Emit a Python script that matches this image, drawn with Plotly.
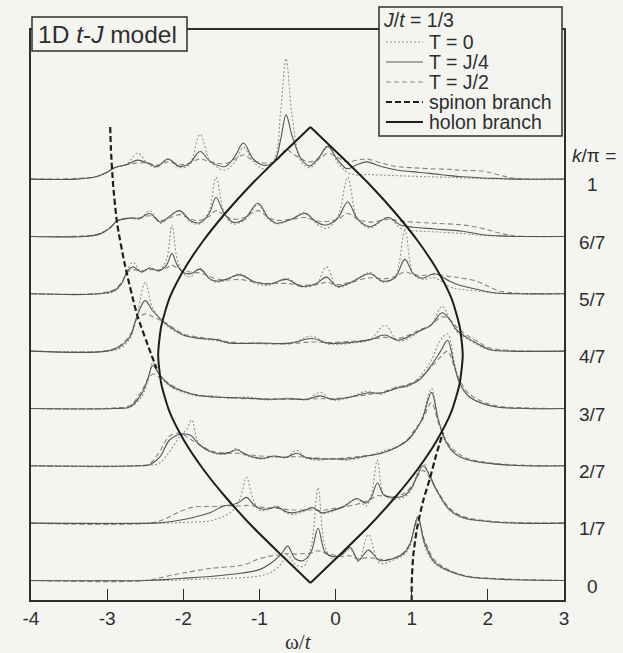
import plotly.graph_objects as go

# ---------------- data ----------------
# spectral weight A(k, w) for the 1D t-J model, J/t = 1/3, one row per momentum
k_labels = ["0", "1/7", "2/7", "3/7", "4/7", "5/7", "6/7", "1"]

# k = 0
w_k0 = [-4.0, -2.5, -2.2, -2.0, -1.65, -1.22, -1.0, -0.85, -0.72, -0.63, -0.53, -0.42, -0.32, -0.23,
        -0.14, -0.04, 0.08, 0.19, 0.3, 0.43, 0.58, 0.75, 0.9, 0.98, 1.08, 1.17, 1.3, 1.45, 1.72, 2.2, 3.0]
t0_k0 = [0, 0, 0, 0.01, 0.03, 0.05, 0.08, 0.14, 0.28, 0.45, 0.28, 0.25, 0.6, 1.62,
         0.6, 0.38, 0.45, 0.55, 0.33, 0.8, 0.3, 0.35, 0.45, 0.6, 1.12, 0.6, 0.3, 0.18, 0.07, 0.02, 0]
tj4_k0 = [0, 0, 0.02, 0.04, 0.07, 0.13, 0.19, 0.3, 0.45, 0.6, 0.38, 0.35, 0.5, 0.91,
          0.5, 0.42, 0.45, 0.58, 0.35, 0.53, 0.35, 0.38, 0.48, 0.65, 1.1, 0.65, 0.32, 0.19, 0.07, 0.02, 0]
tj2_k0 = [0, 0, 0.08, 0.13, 0.21, 0.27, 0.38, 0.43, 0.45, 0.47, 0.46, 0.47, 0.48, 0.52,
          0.48, 0.45, 0.42, 0.43, 0.38, 0.4, 0.37, 0.38, 0.5, 0.65, 1.05, 0.7, 0.36, 0.21, 0.08, 0.03, 0]

# k = pi/7
w_k1 = [-4.0, -2.4, -2.2, -2.05, -1.87, -1.65, -1.47, -1.35, -1.25, -1.17, -1.08, -0.99, -0.88, -0.77,
        -0.65, -0.56, -0.42, -0.3, -0.18, -0.05, 0.1, 0.28, 0.4, 0.47, 0.55, 0.63, 0.75, 0.9, 1.0,
        1.08, 1.15, 1.24, 1.33, 1.5, 1.67, 2.0, 2.4, 3.0]
t0_k1 = [0, 0, 0, 0.01, 0.02, 0.04, 0.12, 0.22, 0.45, 0.8, 0.4, 0.22, 0.24, 0.3,
         0.18, 0.15, 0.2, 0.28, 0.17, 0.2, 0.3, 0.42, 0.3, 0.5, 1.1, 0.5, 0.42, 0.45, 0.6,
         0.9, 1.05, 0.8, 0.55, 0.22, 0.09, 0.03, 0, 0]
tj4_k1 = [0, 0, 0.02, 0.05, 0.1, 0.18, 0.3, 0.32, 0.38, 0.45, 0.33, 0.25, 0.25, 0.28,
          0.2, 0.18, 0.22, 0.27, 0.18, 0.22, 0.28, 0.43, 0.35, 0.45, 0.7, 0.5, 0.45, 0.48, 0.62,
          0.85, 1.0, 0.82, 0.57, 0.23, 0.1, 0.03, 0, 0]
tj2_k1 = [0, 0.01, 0.1, 0.2, 0.28, 0.29, 0.3, 0.3, 0.3, 0.31, 0.3, 0.28, 0.27, 0.26,
          0.24, 0.23, 0.23, 0.23, 0.22, 0.25, 0.28, 0.33, 0.38, 0.42, 0.48, 0.47, 0.46, 0.52, 0.65,
          0.82, 0.92, 0.78, 0.58, 0.26, 0.12, 0.04, 0.01, 0]

# k = 2pi/7
w_k2 = [-4.0, -2.6, -2.44, -2.31, -2.18, -2.05, -1.95, -1.89, -1.8, -1.65, -1.52, -1.4, -1.3, -1.18,
        -0.99, -0.8, -0.65, -0.51, -0.38, -0.2, -0.05, 0.15, 0.4, 0.6, 0.8, 0.95, 1.05, 1.14, 1.26,
        1.35, 1.45, 1.58, 1.75, 2.1, 2.5, 3.0]
t0_k2 = [0, 0, 0.01, 0.05, 0.25, 0.5, 0.65, 0.8, 0.4, 0.25, 0.2, 0.22, 0.3, 0.18,
         0.12, 0.16, 0.14, 0.27, 0.13, 0.1, 0.13, 0.1, 0.16, 0.25, 0.33, 0.45, 0.6, 0.85, 1.35,
         0.8, 0.4, 0.2, 0.1, 0.03, 0, 0]
tj4_k2 = [0, 0, 0.02, 0.15, 0.45, 0.55, 0.55, 0.52, 0.38, 0.25, 0.21, 0.23, 0.28, 0.2,
          0.13, 0.17, 0.15, 0.22, 0.14, 0.12, 0.12, 0.12, 0.17, 0.22, 0.32, 0.45, 0.62, 0.82, 1.28,
          0.8, 0.42, 0.2, 0.1, 0.03, 0, 0]
tj2_k2 = [0, 0, 0.04, 0.25, 0.52, 0.57, 0.5, 0.45, 0.38, 0.27, 0.23, 0.22, 0.22, 0.2,
          0.17, 0.16, 0.15, 0.16, 0.15, 0.13, 0.12, 0.14, 0.18, 0.22, 0.33, 0.47, 0.65, 0.8, 1.1,
          0.75, 0.45, 0.24, 0.12, 0.04, 0.01, 0]

# k = 3pi/7
w_k3 = [-4.0, -2.9, -2.7, -2.55, -2.47, -2.4, -2.32, -2.17, -2.0, -1.82, -1.6, -1.39, -1.15, -0.9,
        -0.6, -0.38, -0.2, -0.05, 0.2, 0.41, 0.6, 0.8, 0.95, 1.1, 1.24, 1.38, 1.47, 1.56, 1.63,
        1.76, 2.06, 2.5, 3.0]
t0_k3 = [0, 0, 0.02, 0.2, 0.45, 0.8, 0.6, 0.38, 0.28, 0.22, 0.22, 0.18, 0.2, 0.15,
         0.18, 0.15, 0.28, 0.15, 0.2, 0.3, 0.25, 0.38, 0.38, 0.55, 0.8, 1.2, 1.3, 0.8, 0.45,
         0.2, 0.04, 0, 0]
tj4_k3 = [0, 0, 0.03, 0.25, 0.5, 0.75, 0.6, 0.4, 0.3, 0.23, 0.2, 0.19, 0.18, 0.16,
          0.17, 0.16, 0.22, 0.16, 0.2, 0.27, 0.27, 0.35, 0.4, 0.5, 0.72, 1.0, 1.19, 0.75, 0.44,
          0.2, 0.04, 0, 0]
tj2_k3 = [0, 0.01, 0.05, 0.3, 0.5, 0.6, 0.55, 0.42, 0.3, 0.24, 0.2, 0.19, 0.17, 0.17,
          0.16, 0.16, 0.17, 0.17, 0.2, 0.24, 0.28, 0.37, 0.42, 0.52, 0.7, 0.9, 1.0, 0.72, 0.5,
          0.25, 0.06, 0.01, 0]

# k = 4pi/7
w_k4 = [-4.0, -3.0, -2.83, -2.7, -2.61, -2.5, -2.4, -2.22, -2.0, -1.78, -1.56, -1.39, -1.0, -0.6,
        -0.31, -0.1, 0.2, 0.45, 0.65, 0.82, 1.0, 1.1, 1.25, 1.4, 1.5, 1.59, 1.72, 1.85, 2.02,
        2.3, 3.0]
t0_k4 = [0, 0, 0.05, 0.22, 0.6, 1.2, 0.75, 0.45, 0.28, 0.22, 0.18, 0.14, 0.14, 0.13,
         0.26, 0.12, 0.14, 0.2, 0.45, 0.18, 0.25, 0.35, 0.45, 0.78, 0.55, 0.35, 0.22, 0.12, 0.02,
         0, 0]
tj4_k4 = [0, 0, 0.08, 0.25, 0.6, 0.88, 0.7, 0.47, 0.28, 0.22, 0.2, 0.14, 0.14, 0.14,
          0.22, 0.14, 0.15, 0.2, 0.28, 0.19, 0.28, 0.35, 0.45, 0.67, 0.55, 0.37, 0.24, 0.14, 0.03,
          0, 0]
tj2_k4 = [0, 0.01, 0.1, 0.28, 0.55, 0.65, 0.6, 0.48, 0.3, 0.24, 0.2, 0.16, 0.13, 0.13,
          0.16, 0.15, 0.17, 0.2, 0.24, 0.22, 0.3, 0.37, 0.45, 0.6, 0.55, 0.42, 0.28, 0.18, 0.06,
          0.01, 0]

# k = 5pi/7
w_k5 = [-4.0, -3.1, -2.9, -2.8, -2.74, -2.66, -2.55, -2.44, -2.32, -2.22, -2.15, -2.08, -2.0, -1.9,
        -1.78, -1.65, -1.56, -1.42, -1.26, -1.05, -0.87, -0.64, -0.45, -0.25, -0.12, 0.02, 0.2,
        0.45, 0.62, 0.78, 0.91, 1.02, 1.14, 1.3, 1.5, 1.63, 1.85, 2.02, 2.15, 2.4, 3.0]
t0_k5 = [0, 0, 0.04, 0.2, 0.4, 0.55, 0.38, 0.45, 0.4, 0.6, 1.2, 0.6, 0.35, 0.3,
         0.45, 0.25, 0.2, 0.25, 0.35, 0.18, 0.15, 0.27, 0.12, 0.18, 0.47, 0.12, 0.18,
         0.37, 0.2, 0.3, 1.1, 0.35, 0.25, 0.28, 0.12, 0.08, 0.05, 0.02, 0.01, 0, 0]
tj4_k5 = [0, 0, 0.06, 0.2, 0.38, 0.47, 0.38, 0.45, 0.4, 0.5, 0.7, 0.5, 0.37, 0.35,
          0.43, 0.26, 0.22, 0.26, 0.33, 0.2, 0.17, 0.25, 0.13, 0.18, 0.29, 0.13, 0.2,
          0.35, 0.22, 0.28, 0.6, 0.35, 0.27, 0.35, 0.22, 0.15, 0.08, 0.03, 0.01, 0, 0]
tj2_k5 = [0, 0.01, 0.08, 0.22, 0.36, 0.42, 0.4, 0.42, 0.42, 0.45, 0.5, 0.45, 0.4, 0.38,
          0.36, 0.3, 0.26, 0.24, 0.25, 0.2, 0.18, 0.18, 0.15, 0.16, 0.2, 0.16, 0.2,
          0.28, 0.26, 0.3, 0.38, 0.34, 0.32, 0.34, 0.3, 0.28, 0.22, 0.12, 0.05, 0.01, 0]

# k = 6pi/7
w_k6 = [-4.0, -3.3, -3.1, -2.96, -2.87, -2.7, -2.57, -2.44, -2.3, -2.18, -2.05, -1.9, -1.78, -1.66,
        -1.57, -1.47, -1.35, -1.2, -1.02, -0.88, -0.77, -0.58, -0.4, -0.25, -0.12, 0.03, 0.16,
        0.29, 0.45, 0.69, 0.85, 1.02, 1.3, 1.67, 1.93, 2.15, 2.35, 3.0]
t0_k6 = [0, 0, 0.04, 0.15, 0.27, 0.32, 0.3, 0.45, 0.23, 0.35, 0.45, 0.25, 0.22, 0.45,
         1.03, 0.45, 0.22, 0.28, 0.55, 0.3, 0.22, 0.3, 0.42, 0.22, 0.14, 0.35, 1.03,
         0.3, 0.15, 0.33, 0.15, 0.1, 0.08, 0.05, 0.02, 0.01, 0, 0]
tj4_k6 = [0, 0, 0.04, 0.15, 0.27, 0.32, 0.32, 0.4, 0.25, 0.35, 0.45, 0.27, 0.24, 0.4,
          0.68, 0.42, 0.25, 0.3, 0.58, 0.32, 0.23, 0.3, 0.4, 0.25, 0.2, 0.32, 0.6,
          0.3, 0.17, 0.33, 0.2, 0.16, 0.13, 0.09, 0.03, 0.01, 0, 0]
tj2_k6 = [0, 0.01, 0.05, 0.16, 0.27, 0.32, 0.32, 0.36, 0.28, 0.32, 0.38, 0.3, 0.28, 0.35,
          0.45, 0.38, 0.3, 0.33, 0.45, 0.33, 0.28, 0.3, 0.33, 0.27, 0.26, 0.3, 0.4,
          0.3, 0.25, 0.3, 0.27, 0.25, 0.23, 0.2, 0.14, 0.06, 0.01, 0]

# k = pi
w_k7 = [-4.0, -3.4, -3.15, -3.0, -2.9, -2.75, -2.6, -2.47, -2.35, -2.2, -2.05, -1.92, -1.78, -1.64,
        -1.45, -1.32, -1.21, -1.08, -0.93, -0.8, -0.72, -0.65, -0.57, -0.45, -0.34, -0.22, -0.1,
        0.02, 0.15, 0.28, 0.41, 0.6, 0.8, 1.0, 1.24, 1.5, 1.67, 1.93, 2.15, 2.38, 3.0]
t0_k7 = [0, 0, 0.04, 0.12, 0.2, 0.25, 0.45, 0.28, 0.2, 0.35, 0.2, 0.25, 0.78, 0.3,
         0.16, 0.3, 0.55, 0.3, 0.18, 0.35, 1.2, 2.1, 1.1, 0.3, 0.2, 0.35, 0.6,
         0.3, 0.12, 0.07, 0.08, 0.07, 0.06, 0.05, 0.04, 0.03, 0.02, 0.01, 0, 0, 0]
tj4_k7 = [0, 0, 0.04, 0.12, 0.2, 0.25, 0.33, 0.28, 0.22, 0.35, 0.22, 0.27, 0.48, 0.3,
          0.22, 0.4, 0.63, 0.35, 0.24, 0.32, 0.7, 1.12, 0.75, 0.35, 0.23, 0.38, 0.57,
          0.35, 0.18, 0.25, 0.3, 0.22, 0.16, 0.13, 0.1, 0.06, 0.04, 0.02, 0.01, 0, 0]
tj2_k7 = [0, 0.01, 0.04, 0.12, 0.2, 0.25, 0.28, 0.28, 0.24, 0.3, 0.25, 0.28, 0.35, 0.3,
          0.27, 0.35, 0.42, 0.32, 0.28, 0.3, 0.4, 0.52, 0.45, 0.35, 0.3, 0.35, 0.45,
          0.38, 0.3, 0.33, 0.35, 0.28, 0.22, 0.2, 0.18, 0.17, 0.15, 0.14, 0.07, 0.01, 0]

# holon branch, w(k) on its left and right edges
holon_k = [0, 0.0625, 0.125, 0.1875, 0.25, 0.3125, 0.375, 0.4375, 0.5,
           0.5625, 0.625, 0.6875, 0.75, 0.8125, 0.875, 0.9375, 1.0]
holon_left = [-0.33, -0.72, -1.10, -1.44, -1.74, -1.99, -2.18, -2.29, -2.33,
              -2.29, -2.18, -1.99, -1.74, -1.44, -1.10, -0.72, -0.33]
holon_right = [-0.33, 0.06, 0.44, 0.78, 1.08, 1.33, 1.52, 1.63, 1.67,
               1.63, 1.52, 1.33, 1.08, 0.78, 0.44, 0.06, -0.33]

# spinon branch, two pieces
spinon_left_k = [1.0, 0.95, 0.87, 0.79, 0.70, 0.59, 0.51, 0.47]
spinon_left_w = [-2.96, -2.95, -2.92, -2.87, -2.77, -2.61, -2.44, -2.35]
spinon_right_k = [-0.04, 0.0, 0.06, 0.12, 0.18, 0.23, 0.28, 0.33]
spinon_right_w = [1.0, 1.0, 1.02, 1.07, 1.15, 1.24, 1.32, 1.41]

x_ticks = [-4, -3, -2, -1, 0, 1, 2, 3]
x_ticktext = ["-4", "-3", "-2", "-1", "0", "1", "2", "3"]

rows = [
    (w_k0, t0_k0, tj4_k0, tj2_k0),
    (w_k1, t0_k1, tj4_k1, tj2_k1),
    (w_k2, t0_k2, tj4_k2, tj2_k2),
    (w_k3, t0_k3, tj4_k3, tj2_k3),
    (w_k4, t0_k4, tj4_k4, tj2_k4),
    (w_k5, t0_k5, tj4_k5, tj2_k5),
    (w_k6, t0_k6, tj4_k6, tj2_k6),
    (w_k7, t0_k7, tj4_k7, tj2_k7),
]

# ---------------- styling ----------------
BG = "#f4f4f1"
INK = "#2e2e2e"
FONT = "Liberation Sans, Arial, sans-serif"
W, H = 623, 653
ML, MR, MT, MB = 31, 59, 30, 53
PW, PH = W - ML - MR, H - MT - MB


def px(x):
    return (x - ML) / PW


def py(y):
    return (MT + PH - y) / PH


style_t0 = dict(color="#939393", width=1.1, dash="2px,2px")
style_tj4 = dict(color="#555555", width=1.1)
style_tj2 = dict(color="#858585", width=1.1, dash="5px,3px")
style_spinon = dict(color="#1e1e1e", width=2.2, dash="6px,3px")
style_holon = dict(color="#1e1e1e", width=2.0)

fig = go.Figure()

for i, (w, a0, a1, a2) in enumerate(rows):
    for vals, st in ((a2, style_tj2), (a0, style_t0), (a1, style_tj4)):
        fig.add_trace(go.Scatter(
            x=w, y=[i + v for v in vals], mode="lines",
            line=dict(shape="spline", smoothing=1.0, **st),
            showlegend=False, hoverinfo="skip"))

for wl in (holon_left, holon_right):
    fig.add_trace(go.Scatter(x=wl, y=holon_k, yaxis="y2", mode="lines",
                             line=dict(shape="spline", smoothing=0.6, **style_holon),
                             showlegend=False, hoverinfo="skip"))
fig.add_trace(go.Scatter(x=spinon_left_w, y=spinon_left_k, yaxis="y2", mode="lines",
                         line=dict(shape="spline", smoothing=0.6, **style_spinon),
                         showlegend=False, hoverinfo="skip"))
fig.add_trace(go.Scatter(x=spinon_right_w, y=spinon_right_k, yaxis="y2", mode="lines",
                         line=dict(shape="spline", smoothing=0.6, **style_spinon),
                         showlegend=False, hoverinfo="skip"))

shapes = []
annotations = []

# title box
shapes.append(dict(type="rect", xref="paper", yref="paper",
                   x0=px(32), x1=px(187), y0=py(51), y1=py(17),
                   fillcolor=BG, line=dict(color=INK, width=1.5), layer="above"))
annotations.append(dict(xref="paper", yref="paper", x=px(36), y=py(34),
                        xanchor="left", yanchor="middle", showarrow=False,
                        text="1D <i>t</i>-<i>J</i> model",
                        font=dict(family=FONT, size=24.5, color=INK)))

# key box
shapes.append(dict(type="rect", xref="paper", yref="paper",
                   x0=px(379), x1=px(562), y0=py(136), y1=py(7),
                   fillcolor=BG, line=dict(color=INK, width=1.5), layer="above"))
annotations.append(dict(xref="paper", yref="paper", x=px(381), y=py(20),
                        xanchor="left", yanchor="middle", showarrow=False,
                        text="<i>J</i>/<i>t</i> = 1/3",
                        font=dict(family=FONT, size=19.5, color=INK)))
key_items = [
    ("T = 0", style_t0, 42),
    ("T = J/4", style_tj4, 62),
    ("T = J/2", style_tj2, 82),
    ("spinon branch", style_spinon, 102),
    ("holon branch", style_holon, 122),
]
for label, st, yy in key_items:
    shapes.append(dict(type="line", xref="paper", yref="paper",
                       x0=px(386), x1=px(423), y0=py(yy), y1=py(yy),
                       line=dict(color=st["color"], width=st["width"],
                                 dash=st.get("dash", "solid")), layer="above"))
    annotations.append(dict(xref="paper", yref="paper", x=px(427), y=py(yy),
                            xanchor="left", yanchor="middle", showarrow=False,
                            text=label, font=dict(family=FONT, size=19.5, color=INK)))

# momentum labels at the right edge
annotations.append(dict(xref="paper", yref="paper", x=px(570), y=py(155),
                        xanchor="left", yanchor="middle", showarrow=False,
                        text="<i>k</i>/π =", font=dict(family=FONT, size=19, color=INK)))
for i, lab in enumerate(k_labels):
    annotations.append(dict(xref="paper", yref="y", x=px(592), y=i - 0.1,
                            xanchor="center", yanchor="middle", showarrow=False,
                            text=lab, font=dict(family=FONT, size=19, color=INK)))

# axis title
annotations.append(dict(xref="paper", yref="paper", x=px(298), y=py(642),
                        xanchor="center", yanchor="middle", showarrow=False,
                        text="ω/<i>t</i>", font=dict(family="Liberation Serif, Times New Roman, serif",
                                                   size=21, color=INK)))

fig.update_layout(
    width=W, height=H,
    margin=dict(l=ML, r=MR, t=MT, b=MB, pad=0),
    paper_bgcolor=BG, plot_bgcolor=BG,
    showlegend=False,
    shapes=shapes, annotations=annotations,
    xaxis=dict(range=[-4, 3], tickvals=x_ticks, ticktext=x_ticktext,
               ticks="inside", ticklen=11, tickwidth=1.3, tickcolor=INK,
               showline=True, linecolor=INK, linewidth=1.5, mirror=True,
               showgrid=False, zeroline=False,
               tickfont=dict(family=FONT, size=19, color=INK)),
    yaxis=dict(range=[-0.34, 9.6], showticklabels=False, ticks="",
               showline=True, linecolor=INK, linewidth=1.5, mirror=True,
               showgrid=False, zeroline=False),
    yaxis2=dict(range=[-0.0373, 1.2127], overlaying="y", visible=False),
)

fig.write_html("out.html")
